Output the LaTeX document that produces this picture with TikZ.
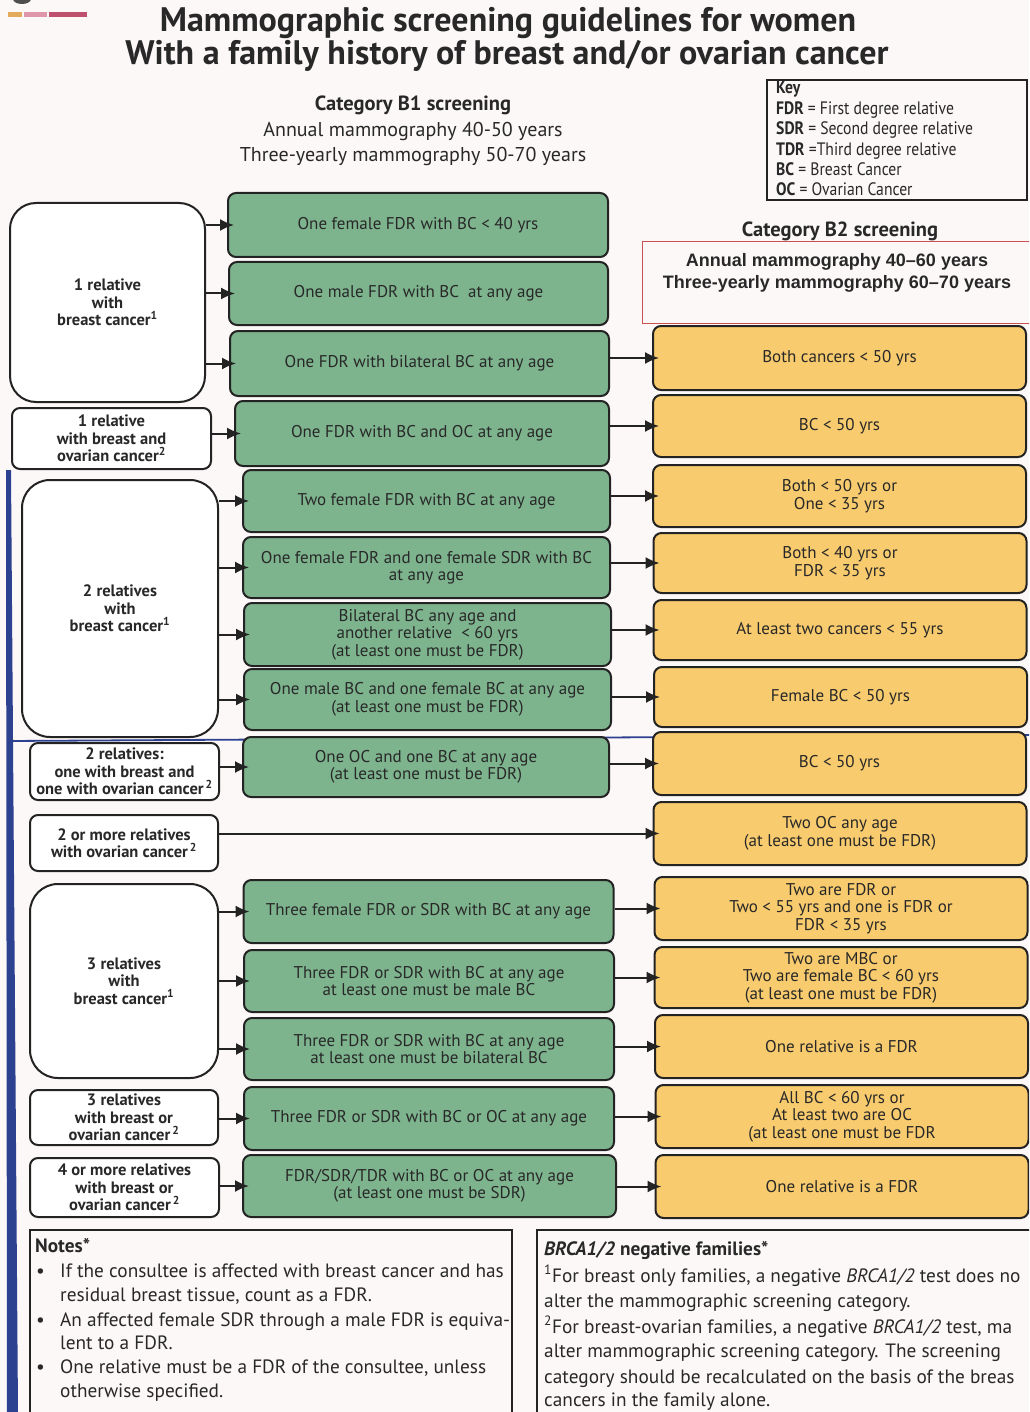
\documentclass[tikz,border=0pt]{standalone}
\usepackage{fontspec}
\setmainfont{PT Sans}
\newfontfamily\condf[FakeStretch=0.87]{PT Sans}
\newfontfamily\titlef{PT Sans}
\newfontfamily\arialf{Liberation Sans}
\usetikzlibrary{arrows.meta}
\definecolor{pagebg}{RGB}{253,248,248}
\definecolor{grn}{RGB}{125,180,142}
\definecolor{ylw}{RGB}{248,203,110}
\definecolor{bordc}{RGB}{35,35,35}
\definecolor{txtc}{RGB}{40,40,40}
\definecolor{bluec}{RGB}{45,65,145}
\definecolor{redc}{RGB}{205,80,80}
\definecolor{barA}{RGB}{226,170,90}
\definecolor{barB}{RGB}{222,150,170}
\definecolor{barC}{RGB}{190,80,110}
\tikzset{
  basebox/.style={draw=bordc, line width=2pt, text=txtc, align=center, inner sep=2pt},
  lbox/.style={basebox, fill=white, font=\bfseries\fontsize{16.5}{17.5}\selectfont},
  gbox/.style={basebox, fill=grn, rounded corners=8pt, font=\fontsize{17}{17.5}\selectfont,
     minimum width=370pt, minimum height=62pt},
  ybox/.style={basebox, fill=ylw, rounded corners=8pt, font=\fontsize{17}{17.5}\selectfont,
     minimum width=373pt, minimum height=62pt},
  arr/.style={draw=bordc, line width=2pt, -{Latex[length=14pt,width=12pt]}, shorten >=-7pt},
  keytxt/.style={anchor=base west, inner sep=0pt, text=txtc, font=\condf\fontsize{18}{18}\selectfont},
  notetxt/.style={anchor=base west, inner sep=0pt, text=txtc, font=\fontsize{19.3}{20}\selectfont},
  headtxt/.style={anchor=base, inner sep=0pt, text=txtc},
}
\begin{document}
\begin{tikzpicture}[x=1pt,y=-1pt]
\useasboundingbox (0,0) rectangle (1029,1412);
\clip (0,0) rectangle (1029,1412);
\fill[pagebg] (0,0) rectangle (1029,1412);
% top-left marks
\fill[bordc!80] (22,-1) ellipse (9 and 5);
\fill[barA] (8,12) rectangle (22,17);
\fill[barB] (24,12) rectangle (47,17);
\fill[barC] (49,12) rectangle (87,17);
% blue edge and rule
\fill[bluec] (6,470) -- (11,470) -- (18,1412) -- (7,1412) -- cycle;
\draw[bluec, line width=1.8pt] (8,741) -- (1029,735);

% title
\node[headtxt, font=\titlef\bfseries\fontsize{34}{34}\selectfont] (t1) at (508,32) {Mammographic screening guidelines for women};
\node[headtxt, font=\titlef\bfseries\fontsize{34}{34}\selectfont] (t2) at (507,65) {With a family history of breast and/or ovarian cancer};

% Category B1
\node[headtxt, font=\bfseries\fontsize{20.5}{20}\selectfont] (b1h) at (413,111) {Category B1 screening};
\node[headtxt, font=\fontsize{20}{20}\selectfont] (b1a) at (413,137) {Annual mammography 40-50 years};
\node[headtxt, font=\fontsize{20}{20}\selectfont] (b1b) at (413,162) {Three-yearly mammography 50-70 years};

% Key
\draw[bordc, line width=1.5pt] (767,80) rectangle (1027,200);
\node[keytxt] (k0) at (776,94) {\bfseries Key};
\node[keytxt] (k1) at (776,115) {\textbf{FDR} = First degree relative};
\node[keytxt] (k2) at (776,135) {\textbf{SDR} = Second degree relative};
\node[keytxt] (k3) at (776,156) {\textbf{TDR} =Third degree relative};
\node[keytxt] (k4) at (776,176) {\textbf{BC} = Breast Cancer};
\node[keytxt] (k5) at (776,196) {\textbf{OC} = Ovarian Cancer};

% Category B2
\node[headtxt, font=\bfseries\fontsize{20.5}{20}\selectfont] (b2h) at (840,237) {Category B2 screening};
\draw[redc, line width=1pt] (642,242) rectangle (1040,323);
\node[headtxt, font=\arialf\bfseries\fontsize{18}{20}\selectfont] (b2a) at (837,267) {Annual mammography 40–60 years};
\node[headtxt, font=\arialf\bfseries\fontsize{18}{20}\selectfont] (b2b) at (837,289) {Three-yearly mammography 60–70 years};

% left boxes
\node[lbox, rounded corners=26pt, minimum width=195pt, minimum height=199pt] (l1) at (107.5,302.5) {1 relative\\with\\breast cancer\textsuperscript{1}};
\node[lbox, rounded corners=8pt, minimum width=199pt, minimum height=61pt] (l2) at (111.5,438.5) {1 relative\\with breast and\\ovarian cancer\textsuperscript{2}};
\node[lbox, rounded corners=28pt, minimum width=196pt, minimum height=257pt] (l3) at (120,608.5) {2 relatives\\with\\breast cancer\textsuperscript{1}};
\node[lbox, rounded corners=8pt, minimum width=189pt, minimum height=57pt] (l4) at (124.5,771.5) {2 relatives:\\one with breast and\\one with ovarian cancer\textsuperscript{\,2}};
\node[lbox, rounded corners=8pt, minimum width=188pt, minimum height=56pt] (l5) at (124,843) {2 or more relatives\\with ovarian cancer\textsuperscript{\,2}};
\node[lbox, rounded corners=28pt, minimum width=188pt, minimum height=194pt] (l6) at (124,981) {3 relatives\\with\\breast cancer\textsuperscript{1}};
\node[lbox, rounded corners=8pt, minimum width=188pt, minimum height=55pt] (l7) at (124,1117.5) {3 relatives\\with breast or\\ovarian cancer\textsuperscript{\,2}};
\node[lbox, rounded corners=8pt, minimum width=189pt, minimum height=59pt] (l8) at (124.5,1187.5) {4 or more relatives\\with breast or\\ovarian cancer\textsuperscript{\,2}};

% green boxes
\node[gbox, minimum width=380pt, minimum height=64pt] (g1) at (418,225) {One female FDR with BC < 40 yrs};
\node[gbox, minimum width=379pt, minimum height=63pt] (g2) at (418.5,293.5) {One male FDR with BC~ at any age};
\node[gbox, minimum width=379pt, minimum height=65pt] (g3) at (419.5,363.5) {One FDR with bilateral BC at any age};
\node[gbox, minimum width=374pt, minimum height=65pt] (g4) at (422,433.5) {One FDR with BC and OC at any age};
\node[gbox, minimum width=367pt] (g5) at (426.5,501) {Two female FDR with BC at any age};
\node[gbox, minimum width=367pt, minimum height=61pt] (g6) at (426.5,567.5) {One female FDR and one female SDR with BC\\at any age};
\node[gbox, minimum width=367pt, minimum height=63pt] (g7) at (427.5,634.5) {Bilateral BC any age and\\another relative~ < 60 yrs\\(at least one must be FDR)};
\node[gbox, minimum width=367pt, minimum height=61pt] (g8) at (427.5,699.5) {One male BC and one female BC at any age\\(at least one must be FDR)};
\node[gbox, minimum width=366pt, minimum height=60pt] (g9) at (426,767) {One OC and one BC at any age\\(at least one must be FDR)};
\node[gbox, minimum height=63pt] (g10) at (428.5,911.5) {Three female FDR or SDR with BC at any age};
\node[gbox] (g11) at (429,981) {Three FDR or SDR with BC at any age\\at least one must be male BC};
\node[gbox] (g12) at (429,1049) {Three FDR or SDR with BC at any age\\at least one must be bilateral BC};
\node[gbox, minimum height=63pt] (g13) at (429,1118.5) {Three FDR or SDR with BC or OC at any age};
\node[gbox, minimum width=373pt] (g14) at (429.5,1186) {FDR/SDR/TDR with BC or OC at any age\\(at least one must be SDR)};

% yellow boxes
\node[ybox, minimum height=64pt] (y1) at (839.5,358) {Both cancers < 50 yrs};
\node[ybox] (y2) at (839.5,426) {BC < 50 yrs};
\node[ybox] (y3) at (839.5,496) {Both < 50 yrs or\\One < 35 yrs};
\node[ybox, minimum height=60pt] (y4) at (840,563) {Both < 40 yrs or\\FDR < 35 yrs};
\node[ybox, minimum height=60pt] (y5) at (840,630) {At least two cancers < 55 yrs};
\node[ybox, minimum height=60pt] (y6) at (840.5,697) {Female BC < 50 yrs};
\node[ybox, minimum height=63pt] (y7) at (839.5,763.5) {BC < 50 yrs};
\node[ybox, minimum height=63pt] (y8) at (840,833.5) {Two OC any age\\(at least one must be FDR)};
\node[ybox, minimum height=63pt] (y9) at (841,908.5) {Two are FDR or\\Two < 55 yrs and one is FDR or\\FDR < 35 yrs};
\node[ybox, minimum height=61pt] (y10) at (841,977.5) {Two are MBC or\\Two are female BC < 60 yrs\\(at least one must be FDR)};
\node[ybox, minimum height=63pt] (y11) at (841.5,1046.5) {One relative is a FDR};
\node[ybox, minimum height=63pt] (y12) at (842,1116.5) {All BC < 60 yrs or\\At least two are OC\\(at least one must be FDR};
\node[ybox, minimum height=63pt] (y13) at (842,1186.5) {One relative is a FDR};

% arrows left -> green
\foreach \l/\g in {l1/g1,l1/g2,l1/g3,l2/g4,l3/g5,l3/g6,l3/g7,l3/g8,l4/g9,l6/g10,l6/g11,l6/g12,l7/g13,l8/g14}
  \draw[arr] (\l.east |- \g.west) -- (\g.west);
% arrows green -> yellow
\foreach \g/\y in {g3/y1,g4/y2,g5/y3,g6/y4,g7/y5,g8/y6,g9/y7,g10/y9,g11/y10,g12/y11,g13/y12,g14/y13}
  \draw[arr] (\g.east |- \y.west) -- (\y.west);
\draw[arr] (l5.east |- y8.west) -- (y8.west);

% notes
\draw[bordc, line width=1.3pt] (30,1420) -- (30,1230) -- (512,1230) -- (512,1420);
\node[notetxt] (n0) at (35,1252) {\bfseries Notes*};
\node[notetxt] (nb1) at (36,1277) {\textbullet};
\node[notetxt] (n1) at (60,1277) {If the consultee is affected with breast cancer and has};
\node[notetxt] (n2) at (60,1301) {residual breast tissue, count as a FDR.};
\node[notetxt] (nb2) at (36,1326) {\textbullet};
\node[notetxt] (n3) at (60,1326) {An affected female SDR through a male FDR is equiva-};
\node[notetxt] (n4) at (60,1349) {lent to a FDR.};
\node[notetxt] (nb3) at (36,1373) {\textbullet};
\node[notetxt] (n5) at (60,1373) {One relative must be a FDR of the consultee, unless};
\node[notetxt] (n6) at (60,1397) {otherwise specified.};

% BRCA
\draw[bordc, line width=1.3pt] (537,1420) -- (537,1230) -- (1040,1230);
\node[notetxt] (r0) at (544,1255) {\bfseries\itshape BRCA1/2\upshape\ negative families*};
\node[notetxt] (r1) at (544,1282) {\textsuperscript{1}For breast only families, a negative \textit{BRCA1/2} test does no};
\node[notetxt] (r2) at (544,1307) {alter the mammographic screening category.};
\node[notetxt] (r3) at (544,1333) {\textsuperscript{2}For breast-ovarian families, a negative \textit{BRCA1/2} test, ma};
\node[notetxt] (r4) at (544,1357) {alter mammographic screening category. The screening};
\node[notetxt] (r5) at (544,1383) {category should be recalculated on the basis of the breas};
\node[notetxt] (r6) at (544,1406) {cancers in the family alone.};
\end{tikzpicture}
\end{document}
